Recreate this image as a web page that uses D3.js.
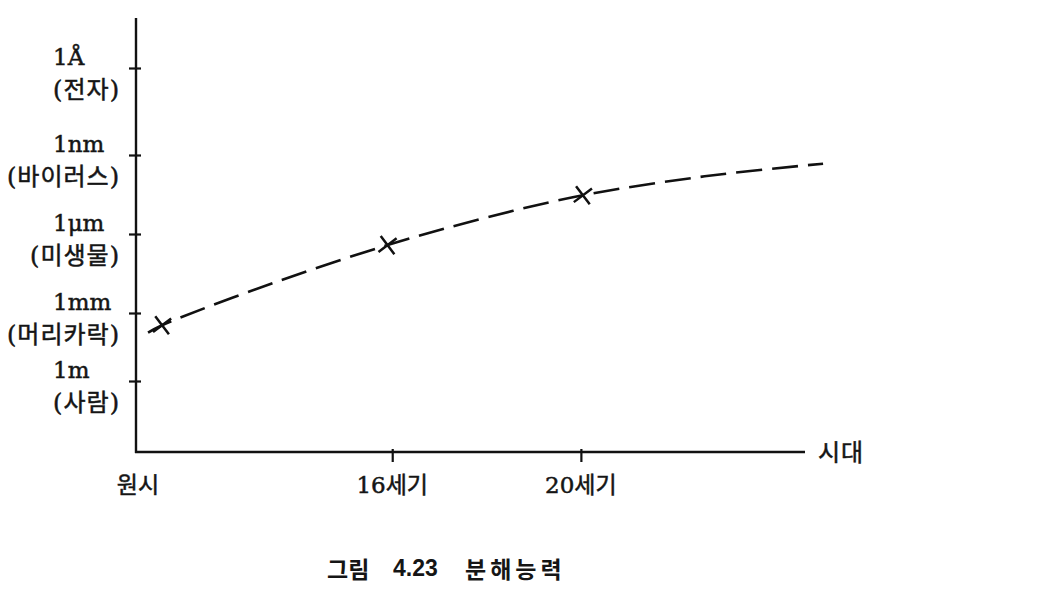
<!DOCTYPE html>
<html>
<head>
<meta charset="utf-8">
<script src="https://cdn.jsdelivr.net/npm/d3@7"></script>
<style>
  html, body { margin: 0; padding: 0; background: #fff; }
  svg { display: block; }
  text { fill: #151515; }
</style>
</head>
<body>
<svg id="chart" width="1049" height="611"></svg>
<script>
// ---- data ----
const yLevels = ['1m', '1mm', '1μm', '1nm', '1Å'];          // resolution levels (bottom -> top)
const yNotes  = ['(사람)', '(머리카락)', '(미생물)', '(바이러스)', '(전자)'];
const levelIndex = [0, 1, 2, 3, 4];
const eraLabels = ['원시', '16세기', '20세기'];
const eraValues = [0.3, 38.3, 66.5];                           // position along the time axis (0-100)
const eraTicks  = [38.3, 66.5];
const markerX = [3.9, 37.6, 66.8];                              // × marks
const markerY = [0.82, 1.86, 2.49];                             // in level units
const curveX = [1.8, 3.9, 20.5, 37.6, 52.0, 66.8, 85.0, 102.7];   // dashed trend
const curveY = [0.71, 0.82, 1.38, 1.86, 2.20, 2.49, 2.73, 2.89];
const xTitle = '시대';
const caption = ['그림', '4.23', '분해능력'];

// ---- layout ----
const svg = d3.select('#chart');
const ox = 136, oy = 452, axisTop = 18, axisRight = 805;
const FONT = '"DejaVu Serif", "Noto Sans CJK KR", serif';
const INK = '#151515';

const x = d3.scaleLinear().domain([0, 100]).range([ox, axisRight]);
const y = d3.scaleLinear().domain(levelIndex).range([381, 313, 234, 155, 68]);

// axes lines
svg.append('line').attr('x1', ox).attr('x2', ox).attr('y1', axisTop).attr('y2', oy + 1)
  .attr('stroke', '#111').attr('stroke-width', 2.4);
svg.append('line').attr('x1', ox - 1).attr('x2', axisRight).attr('y1', oy).attr('y2', oy)
  .attr('stroke', '#111').attr('stroke-width', 2.4);

// y ticks via axis
const yAxis = svg.append('g').attr('transform', `translate(${ox},0)`)
  .call(d3.axisLeft(y).tickValues(levelIndex).tickSize(7).tickFormat(''));
yAxis.select('.domain').remove();
yAxis.selectAll('.tick line').attr('x1', 5).attr('x2', -7).attr('stroke', '#111').attr('stroke-width', 2.2);

// x ticks via axis
const xAxis = svg.append('g').attr('transform', `translate(0,${oy})`)
  .call(d3.axisBottom(x).tickValues(eraTicks).tickSize(10).tickFormat(''));
xAxis.select('.domain').remove();
xAxis.selectAll('.tick line').attr('y1', -3).attr('y2', 10).attr('stroke', '#111').attr('stroke-width', 2.2);

// y labels
const yl = svg.append('g').attr('font-family', FONT).attr('stroke', INK).attr('stroke-width', 0.5);
yl.selectAll('text.v').data(levelIndex).join('text').attr('class', 'v')
  .attr('x', 53).attr('y', d => y(d) - 11)
  .attr('dominant-baseline', 'central').attr('font-size', 23)
  .text(d => yLevels[d]);
yl.selectAll('text.n').data(levelIndex).join('text').attr('class', 'n')
  .attr('x', 120).attr('y', d => y(d) + 22)
  .attr('text-anchor', 'end').attr('dominant-baseline', 'central')
  .attr('font-size', 24).attr('letter-spacing', 1)
  .text(d => yNotes[d]);

// x labels
const xl = svg.append('g').attr('font-family', FONT).attr('stroke', INK).attr('stroke-width', 0.5);
xl.selectAll('text').data(eraLabels).join('text')
  .attr('x', (d, i) => x(eraValues[i])).attr('y', 485)
  .attr('text-anchor', 'middle').attr('dominant-baseline', 'central').attr('font-size', 23)
  .text(d => d);
xl.append('text').attr('x', 818).attr('y', 453)
  .attr('dominant-baseline', 'central').attr('font-size', 24).attr('letter-spacing', 1).text(xTitle);

// dashed curve
const line = d3.line().x(d => x(d[0])).y(d => y(d[1])).curve(d3.curveCatmullRom.alpha(0.5));
svg.append('path').datum(curveX.map((v, i) => [v, curveY[i]]))
  .attr('d', line).attr('fill', 'none').attr('stroke', '#111')
  .attr('stroke-width', 2.6).attr('stroke-dasharray', '26,10');

// × markers
svg.append('g').selectAll('path').data(markerX.map((v, i) => [v, markerY[i]])).join('path')
  .attr('transform', d => `translate(${x(d[0])},${y(d[1])}) rotate(8)`)
  .attr('d', d3.symbol(d3.symbolX, 170)())
  .attr('fill', 'none').attr('stroke', '#111').attr('stroke-width', 2.5);

// caption
const cap = svg.append('g').attr('font-weight', 'bold').attr('font-size', 23);
cap.append('text').attr('x', 327).attr('y', 568).attr('dominant-baseline', 'central')
  .attr('font-family', '"Noto Sans CJK KR", sans-serif').text(caption[0]);
cap.append('text').attr('x', 393).attr('y', 568).attr('dominant-baseline', 'central')
  .attr('font-family', '"Liberation Sans", sans-serif').text(caption[1]);
cap.append('text').attr('x', 465).attr('y', 568).attr('dominant-baseline', 'central')
  .attr('letter-spacing', 4)
  .attr('font-family', '"Noto Sans CJK KR", sans-serif').text(caption[2]);
</script>
</body>
</html>
